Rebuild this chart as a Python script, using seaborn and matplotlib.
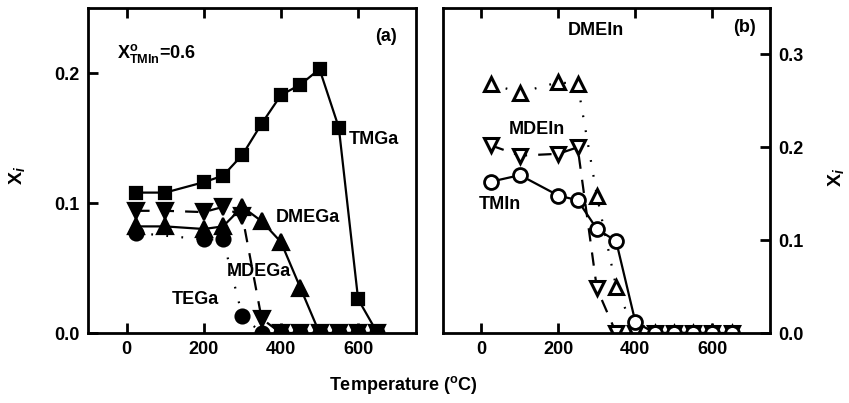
import matplotlib
matplotlib.use("Agg")
import matplotlib.pyplot as plt
import seaborn as sns
import numpy as np

# ---------------- data ----------------
# panel (a)
tmga_T = [25, 100, 200, 250, 300, 350, 400, 450, 500, 550, 600, 650]
tmga_X = [0.108, 0.108, 0.116, 0.121, 0.137, 0.161, 0.183, 0.191, 0.203, 0.158, 0.026, 0.0]
dmega_T = [25, 100, 200, 250, 300, 350, 400, 450, 500, 550, 600, 650]
dmega_X = [0.082, 0.082, 0.080, 0.082, 0.097, 0.086, 0.070, 0.035, 0.0, 0.0, 0.0, 0.0]
mdega_T = [25, 100, 200, 250, 300, 350, 400, 450, 500, 550, 600, 650]
mdega_X = [0.094, 0.094, 0.093, 0.097, 0.090, 0.011, 0.0, 0.0, 0.0, 0.0, 0.0, 0.0]
tega_T = [25, 200, 250, 300, 350, 400, 450, 500, 550, 600, 650]
tega_X = [0.077, 0.072, 0.072, 0.013, 0.0, 0.0, 0.0, 0.0, 0.0, 0.0, 0.0]

# panel (b)
dmein_T = [25, 100, 200, 250, 300, 350, 400, 450, 500, 550, 600, 650]
dmein_X = [0.268, 0.259, 0.270, 0.268, 0.148, 0.050, 0.0, 0.0, 0.0, 0.0, 0.0, 0.0]
mdein_T = [25, 100, 200, 250, 300, 350, 400, 450, 500, 550, 600, 650]
mdein_X = [0.202, 0.191, 0.193, 0.200, 0.048, 0.0, 0.0, 0.0, 0.0, 0.0, 0.0, 0.0]
tmin_T = [25, 100, 200, 250, 300, 350, 400, 450, 500, 550, 600, 650]
tmin_X = [0.163, 0.170, 0.148, 0.143, 0.112, 0.099, 0.012, 0.0, 0.0, 0.0, 0.0, 0.0]

x_ticks = [0, 200, 400, 600]
ya_ticks = [0.0, 0.1, 0.2]
yb_ticks = [0.0, 0.1, 0.2, 0.3]

# ---------------- style ----------------
sns.set_style("ticks")
plt.rcParams['font.family'] = ['Liberation Sans', 'DejaVu Sans']
plt.rcParams['font.weight'] = 'bold'
plt.rcParams['text.color'] = 'black'
plt.rcParams['axes.labelcolor'] = 'black'
plt.rcParams['axes.edgecolor'] = 'black'
plt.rcParams['xtick.color'] = 'black'
plt.rcParams['ytick.color'] = 'black'
plt.rcParams['mathtext.fontset'] = 'custom'
plt.rcParams['mathtext.rm'] = 'Liberation Sans:bold'
plt.rcParams['mathtext.bf'] = 'Liberation Sans:bold'
plt.rcParams['mathtext.it'] = 'Liberation Sans:italic:bold'

FS = 13
fig = plt.figure(figsize=(8.49, 4.03), dpi=100)
axa = fig.add_axes([88/849, 1 - 333/403, 328/849, 325/403])
axb = fig.add_axes([443/849, 1 - 333/403, 327/849, 325/403])

LW = 1.6
DOT = (0, (0.8, 6))
DASH = (0, (6, 5))


def series(ax, T, X, marker, ls, ms, filled=True, mew=1.6):
    sns.lineplot(x=T, y=X, ax=ax, color='black', linewidth=LW, linestyle=ls,
                 marker=marker, markersize=ms,
                 markerfacecolor='black' if filled else 'white',
                 markeredgecolor='black', markeredgewidth=mew,
                 legend=False, estimator=None, sort=False)

# panel (a)
series(axa, tega_T, tega_X, 'o', DOT, 10)
series(axa, dmega_T, dmega_X, '^', '-', 11)
series(axa, mdega_T, mdega_X, 'v', DASH, 11)
series(axa, tmga_T, tmga_X, 's', '-', 9)

# panel (b)
series(axb, dmein_T, dmein_X, '^', DOT, 10, filled=False, mew=2.2)
series(axb, mdein_T, mdein_X, 'v', DASH, 10, filled=False, mew=2.2)
series(axb, tmin_T, tmin_X, 'o', '-', 10, filled=False, mew=2.0)

for ax in (axa, axb):
    ax.set_xlim(-100, 750)
    ax.set_xticks(x_ticks)
    ax.set_xticklabels([str(t) for t in x_ticks])
    ax.set_xlabel('')
    ax.set_ylabel('')
    for s in ax.spines.values():
        s.set_linewidth(2.0)
        s.set_color('black')
        s.set_visible(True)
    ax.tick_params(axis='both', direction='in', length=7, width=2,
                   labelsize=FS, pad=6, colors='black')

axa.set_ylim(0, 0.25)
axa.set_yticks(ya_ticks)
axa.set_yticklabels(['0.0', '0.1', '0.2'])
axa.tick_params(top=True, bottom=True, left=True, right=False,
                labelleft=True, labelright=False)

axb.set_ylim(0, 0.35)
axb.set_yticks(yb_ticks)
axb.set_yticklabels(['0.0', '0.1', '0.2', '0.3'])
axb.yaxis.tick_right()
axb.tick_params(top=True, bottom=True, left=False, right=True,
                labelleft=False, labelright=True)
for ax in (axa, axb):
    for lab in ax.get_xticklabels() + ax.get_yticklabels():
        lab.set_fontweight('bold')
        lab.set_color('black')

# annotations panel (a)
tk = dict(fontsize=FS, fontweight='bold', ha='center', va='center', color='black')
axa.text(671, 0.228, '(a)', **tk)
axa.text(-25, 0.215, r'$\mathbf{X^o_{TMIn}}$=0.6', fontsize=FS, fontweight='bold',
         ha='left', va='center', color='black')
axa.text(640, 0.149, 'TMGa', **tk)
axa.text(470, 0.089, 'DMEGa', **tk)
axa.text(343, 0.047, 'MDEGa', **tk)
axa.text(179, 0.0255, 'TEGa', **tk)

# annotations panel (b)
axb.text(684, 0.329, '(b)', **tk)
axb.text(298, 0.326, 'DMEIn', **tk)
axb.text(144, 0.219, 'MDEIn', **tk)
axb.text(47, 0.138, 'TMIn', **tk)

# axis labels
fig.text(17/849, 1 - 175/403, r'X$_{\mathit{i}}$', rotation=90, fontsize=FS + 1,
         fontweight='bold', ha='center', va='center', color='black')
fig.text(836/849, 1 - 177/403, r'X$_{\mathit{i}}$', rotation=90, fontsize=FS + 1,
         fontweight='bold', ha='center', va='center', color='black')
fig.text(403/849, 1 - 385/403, 'Temperature ($^{\\mathbf{o}}$C)', fontsize=FS,
         fontweight='bold', ha='center', va='center', color='black')

fig.savefig('out.png', dpi=100)
